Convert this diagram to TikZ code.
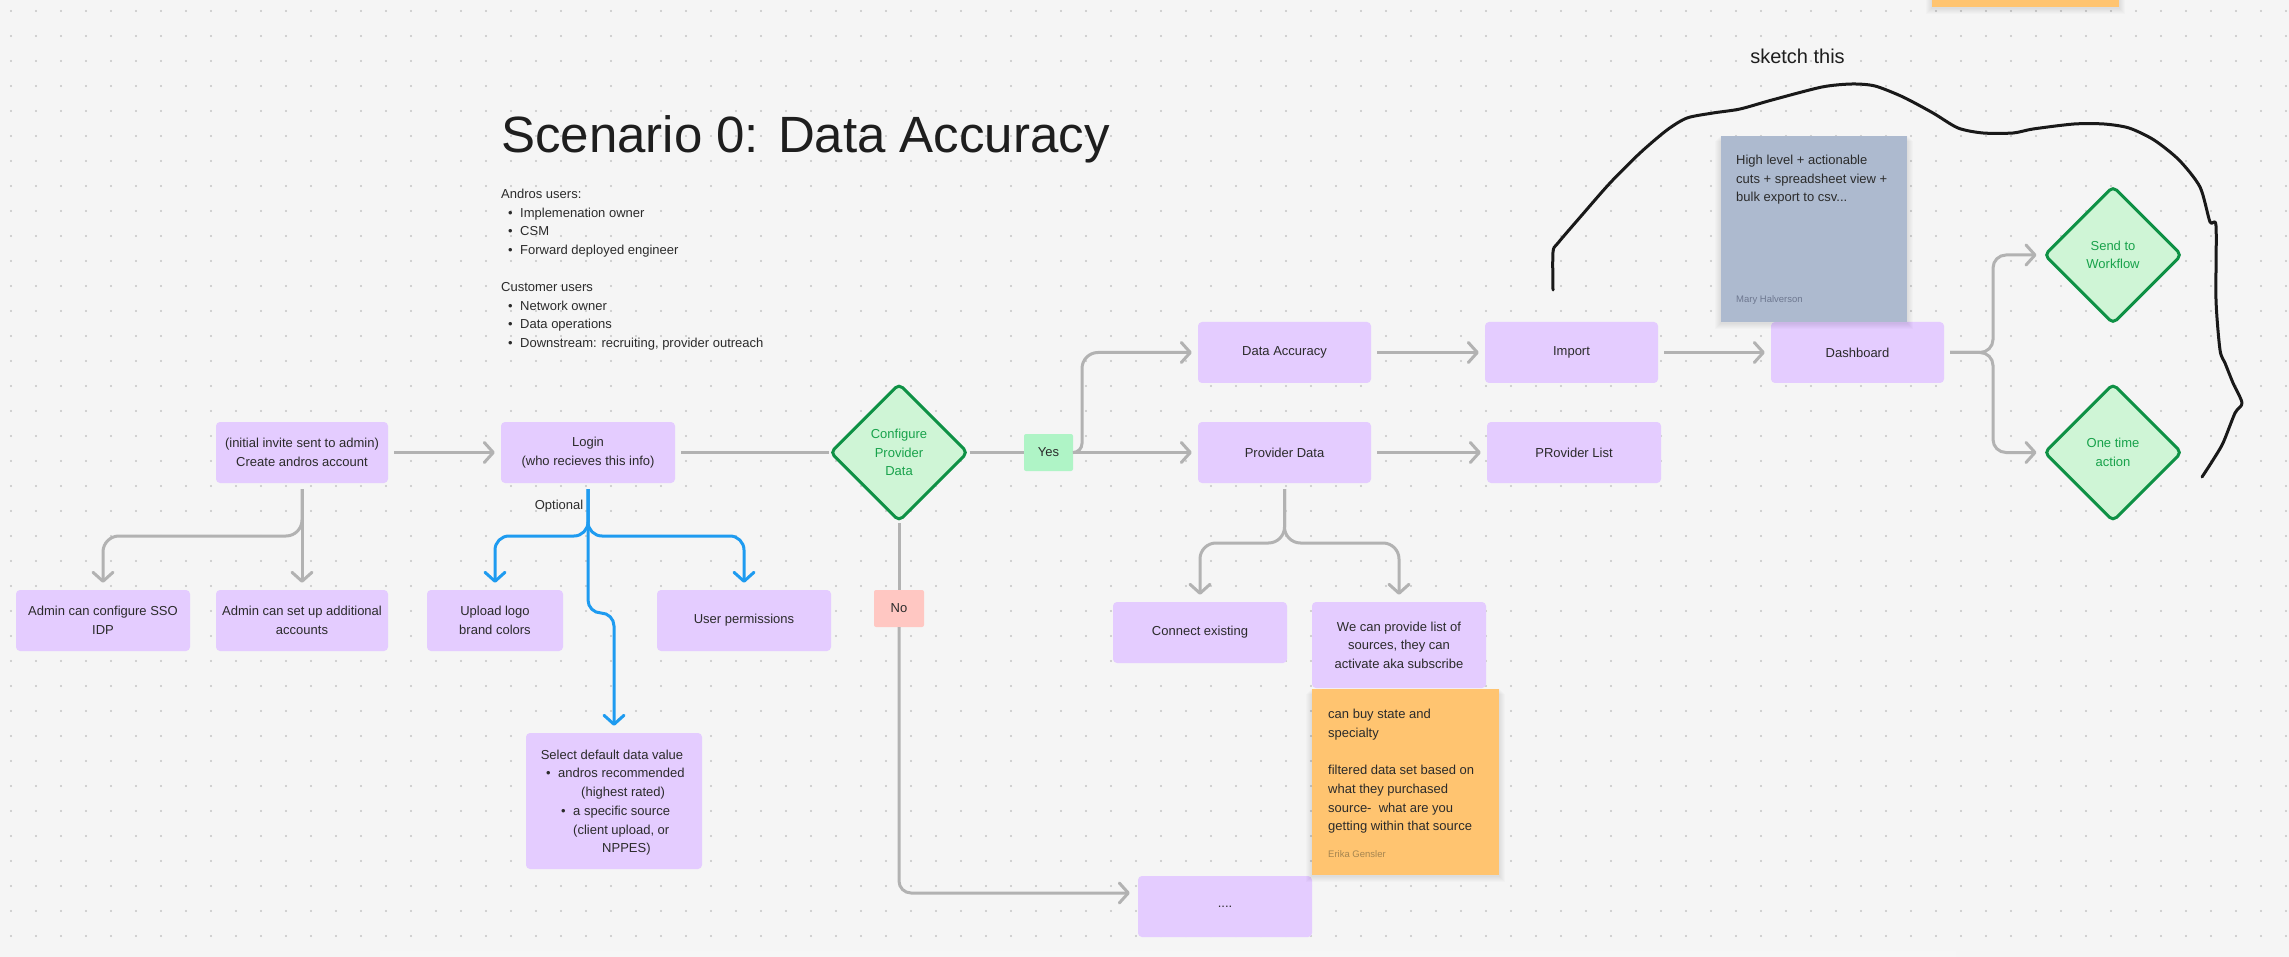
\documentclass[tikz,border=0pt]{standalone}
\usepackage{fontspec}
\setmainfont{Liberation Sans}
\usetikzlibrary{arrows.meta,shapes.geometric}
\definecolor{bg}{HTML}{F5F5F5}
\definecolor{dotc}{HTML}{C4C4C4}
\definecolor{purp}{HTML}{E4CCFF}
\definecolor{txt}{HTML}{2B2B2B}
\definecolor{agray}{HTML}{B2B2B2}
\definecolor{ablue}{HTML}{1E9BF0}
\definecolor{dfill}{HTML}{CFF5D6}
\definecolor{dline}{HTML}{0E9145}
\definecolor{dtext}{HTML}{18A24B}
\definecolor{yesfill}{HTML}{AFF4C6}
\definecolor{nofill}{HTML}{FFC7C2}
\definecolor{orng}{HTML}{FFC470}
\definecolor{slate}{HTML}{ADBACF}
\definecolor{titlec}{HTML}{1E1E1E}
\definecolor{erikac}{HTML}{A58550}
\definecolor{maryc}{HTML}{6E7890}
\newcommand\mysoftshadow[4]{%
  \foreach \k in {1,...,6} {
    \fill[black, opacity=0.016] (#1-\k,#2+\k-1) rectangle (#3+\k,#4+\k+1);
  }%
}
\begin{document}
\begin{tikzpicture}[x=1pt,y=-1pt,
  f13/.style={font=\fontsize{13}{18.5}\selectfont},
  box/.style={f13, fill=purp, rounded corners=4pt, text=txt, align=center, inner sep=0pt, minimum height=61pt},
  dmd/.style={diamond, aspect=1, f13, fill=dfill, draw=dline, line width=3pt, text=dtext, align=center, inner sep=0pt, minimum width=138pt, minimum height=138pt, rounded corners=5pt},
  lbl/.style={f13, text=txt, inner sep=0pt, minimum height=37pt, rounded corners=2pt},
  gline/.style={draw=agray, line width=3pt, rounded corners=14pt, shorten <=6pt},
  garrow/.style={gline, -{Straight Barb[length=9pt,width=20pt,round]}, shorten >=6pt},
  bline/.style={draw=ablue, line width=3pt, rounded corners=14pt, shorten <=6pt, -{Straight Barb[length=9pt,width=20pt,round]}, shorten >=7pt},
  plain/.style={f13, text=txt, inner sep=0pt, anchor=base west},
  small/.style={font=\fontsize{9.5}{11}\selectfont, inner sep=0pt, anchor=base west},
  sticky/.style={inner sep=0pt},
]
\clip (0,0) rectangle (2289,957);
\fill[bg] (0,0) rectangle (2289,957);
\shade[top color=bg, bottom color=black!3.5] (380,944) rectangle (1956,957);
\foreach \x in {11,36,...,2289} {
  \foreach \y in {11,36,...,957} {
    \fill[dotc] (\x,\y) circle (1.1pt);
  }
}

% title and notes
\node[anchor=base west, inner sep=0pt, font=\fontsize{51}{51}\selectfont, text=titlec] (title) at (501,153) {Scenario 0: Data Accuracy};
\node[plain] (au) at (501,199) {Andros users:};
\node[plain] (b1) at (508,218) {\textbullet}; \node[plain] (t1) at (520,218) {Implemenation owner};
\node[plain] (b2) at (508,236) {\textbullet}; \node[plain] (t2) at (520,236) {CSM};
\node[plain] (b3) at (508,255) {\textbullet}; \node[plain] (t3) at (520,255) {Forward deployed engineer};
\node[plain] (cu) at (501,292) {Customer users};
\node[plain] (b4) at (508,311) {\textbullet}; \node[plain] (t4) at (520,311) {Network owner};
\node[plain] (b5) at (508,329) {\textbullet}; \node[plain] (t5) at (520,329) {Data operations};
\node[plain] (b6) at (508,348) {\textbullet}; \node[plain] (t6) at (520,348) {Downstream: recruiting, provider outreach};

\node[font=\fontsize{20}{20}\selectfont, text=titlec, inner sep=0pt] (sk) at (1797.5,56) {sketch this};

% boxes
\node[box, minimum width=172pt] (create) at (302,452.5) {(initial invite sent to admin)\\Create andros account};
\node[box, minimum width=174pt] (login) at (588,452.5) {Login\\(who recieves this info)};
\node[box, minimum width=174pt] (sso) at (103,620.5) {Admin can configure SSO\\IDP};
\node[box, minimum width=172pt] (addl) at (302,620.5) {Admin can set up additional\\accounts};
\node[box, minimum width=136pt] (logo) at (495,620.5) {Upload logo\\brand colors};
\node[box, minimum width=174pt] (perms) at (744,620.5) {User permissions};
\node[box, minimum width=176pt, minimum height=136pt] (select) at (614,801) {};
\node[plain, anchor=base] (s0) at (612,759) {Select default data value};
\node[plain] (s1b) at (546,777) {\textbullet}; \node[plain] (s1) at (558,777) {andros recommended};
\node[plain] (s2) at (581,796) {(highest rated)};
\node[plain] (s3b) at (561,815) {\textbullet}; \node[plain] (s3) at (573,815) {a specific source};
\node[plain] (s4) at (573,834) {(client upload, or};
\node[plain] (s5) at (602,852) {NPPES)};

\node[dmd] (cfg) at (899,452.5) {Configure\\Provider\\Data};
\node[lbl, fill=yesfill, minimum width=49pt] (yes) at (1048.5,452.5) {Yes};
\node[lbl, fill=nofill, minimum width=50pt] (no) at (899,608.5) {No};

\node[box, minimum width=173pt] (dacc) at (1284.5,352.5) {Data Accuracy};
\node[box, minimum width=173pt] (pdata) at (1284.5,452.5) {Provider Data};
\node[box, minimum width=173pt] (import) at (1571.5,352.5) {Import};
\node[box, minimum width=174pt] (plist) at (1574,452.5) {PRovider List};
\node[box, minimum width=173pt] (dash) at (1857.5,352.5) {Dashboard};
\node[box, minimum width=174pt] (connect) at (1200,632.5) {Connect existing};
\node[box, minimum width=174pt, minimum height=86pt] (wecan) at (1399,645) {We can provide list of\\sources, they can\\activate aka subscribe};
\node[box, minimum width=174pt] (dots) at (1225,906.5) {....};

\node[dmd] (send) at (2113,255) {Send to\\Workflow};
\node[dmd] (onetime) at (2113,452.5) {One time\\action};

% stickies
\mysoftshadow{1312}{689}{1499}{875}
\node[sticky, fill=orng, minimum width=187pt, minimum height=186pt] (erika) at (1405.5,782) {};
\node[plain] (e1) at (1328,718) {can buy state and};
\node[plain] (e2) at (1328,737) {specialty};
\node[plain] (e3) at (1328,774) {filtered data set based on};
\node[plain] (e4) at (1328,793) {what they purchased};
\node[plain] (e5) at (1328,812) {source-\ \ what are you};
\node[plain] (e6) at (1328,830) {getting within that source};
\node[small, text=erikac] (e7) at (1328,857) {Erika Gensler};

\mysoftshadow{1721}{136}{1907}{322}
\node[sticky, fill=slate, minimum width=186pt, minimum height=186pt] (mary) at (1814,229) {};
\node[plain] (m1) at (1736,165) {High level + actionable};
\node[plain] (m2) at (1736,184) {cuts + spreadsheet view +};
\node[plain] (m3) at (1736,202) {bulk export to csv...};
\node[small, text=maryc] (m4) at (1736,303) {Mary Halverson};

\mysoftshadow{1932}{-33}{2119}{7}
\node[sticky, fill=orng, minimum width=187pt, minimum height=40pt] (topnote) at (2025.5,-13) {};

% coordinates
\coordinate (cb) at (302,536);
\coordinate (lb) at (588,536);
\coordinate (lm1) at (588,613);
\coordinate (lm2) at (614,613);
\coordinate (ya) at (1082,400);
\coordinate (pb) at (1284.5,543);
\coordinate (db) at (1993,352.5);

% connectors
\draw[garrow] (create.east) -- (login.west);
\draw[garrow, shorten >=7pt] (create.south) -- (addl.north);
\draw[garrow, shorten >=7pt, rounded corners=16pt] (create.south) -- (cb) -| (sso.north);

\draw[bline] (login.south) -- (lb) -| (logo.north);
\draw[bline] (login.south) -- (lb) -| (perms.north);
\draw[bline, rounded corners=13pt] (login.south) -- (lm1) -- (lm2) -- (select.north);
\node[f13, text=txt, inner sep=0pt] (opt) at (559,506) {Optional};

\draw[gline] (login.east) -- (cfg.west);
\draw[gline, shorten <=0pt] (cfg.east) -- (yes.west);
\draw[garrow, shorten <=0pt] (yes.east) -- (pdata.west);
\draw[garrow, shorten <=0pt, rounded corners=9pt] (yes.east) -| (ya) [rounded corners=16pt] |- (dacc.west);
\draw[gline, shorten <=0pt] (cfg.south) -- (no.north);
\draw[garrow, shorten <=0pt, shorten >=8pt, rounded corners=12pt] (no.south) |- ([yshift=13.5pt]dots.west);

\draw[garrow] (dacc.east) -- (import.west);
\draw[garrow] (import.east) -- (dash.west);
\draw[garrow] (pdata.east) -- (plist.west);
\draw[garrow, shorten >=7pt, rounded corners=16pt] (pdata.south) -- (pb) -| (connect.north);
\draw[garrow, shorten >=7pt, rounded corners=16pt] (pdata.south) -- (pb) -| (wecan.north);

\draw[garrow, rounded corners=13pt] (dash.east) -- (db) |- (send.west);
\draw[garrow, rounded corners=13pt] (dash.east) -- (db) |- (onetime.west);

% sketch curve
\draw[black!90, line width=3pt, line cap=round, line join=round] plot[smooth, tension=0.45] coordinates {
(1553,290) (1553,252) (1558,243) (1582,215) (1610,183) (1640,153) (1667,130) (1687,118) (1713,113) (1740,109) (1772,100) (1822,87) (1852,84) (1875,86) (1903,97) (1933,113) (1958,128) (1983,133) (2013,133) (2033,129) (2074,124) (2104,124) (2129,128) (2154,140) (2179,160) (2200,187) (2210,222) (2216,226) (2216,300) (2220,350) (2225,363) (2233,383) (2242,403) (2235,413) (2223,443) (2213,460) (2202,477)};
\end{tikzpicture}
\end{document}
